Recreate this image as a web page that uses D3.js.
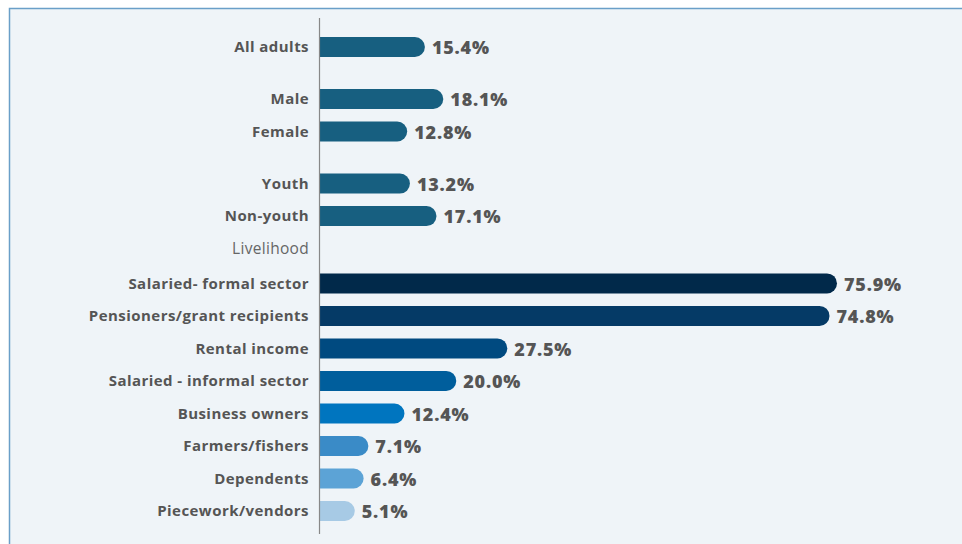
<!DOCTYPE html>
<html>
<head>
<meta charset="utf-8">
<script src="https://cdn.jsdelivr.net/npm/d3@7"></script>
<style>
  html, body { margin: 0; padding: 0; background: #ffffff; }
  svg { display: block; }
</style>
</head>
<body>
<svg id="chart" width="962" height="544"></svg>
<script>
// Share of adults in each group (percent)
const categories = [
  "All adults",
  "Male", "Female",
  "Youth", "Non-youth",
  "Salaried- formal sector", "Pensioners/grant recipients", "Rental income",
  "Salaried - informal sector", "Business owners", "Farmers/fishers",
  "Dependents", "Piecework/vendors"
];
const values = [15.4, 18.1, 12.8, 13.2, 17.1, 75.9, 74.8, 27.5, 20.0, 12.4, 7.1, 6.4, 5.1];
const groups = ["all", "gender", "gender", "age", "age",
  "livelihood", "livelihood", "livelihood", "livelihood", "livelihood",
  "livelihood", "livelihood", "livelihood"];
const groupHeaders = { livelihood: "Livelihood" };
const barColors = [
  "#175f80", "#175f80", "#175f80", "#175f80", "#175f80",
  "#01294a", "#053a66", "#004a80", "#005e9c", "#0075bf",
  "#3a8bc7", "#5ca3d6", "#a7cae5"
];

const svg = d3.select("#chart");
const W = 962, H = 544;
const FONT = "'Open Sans', Lato, sans-serif";

// panel background and border
svg.append("rect").attr("x", 0).attr("y", 0).attr("width", W).attr("height", H).attr("fill", "#ffffff");
svg.append("rect").attr("x", 9.5).attr("y", 8.5).attr("width", W + 20).attr("height", H + 20)
  .attr("fill", "#eff4f8").attr("stroke", "#6a9fc8").attr("stroke-width", 1.5);

// row slots: extra space between groups, one slot for a group header
const slots = [];
let pos = 0, prev = null;
const rows = [];
categories.forEach((c, i) => {
  const g = groups[i];
  if (prev !== null && g !== prev) {
    if (groupHeaders[g]) {
      pos += 1;
      rows.push({ header: groupHeaders[g], slot: pos });
      pos += 1.07;
    } else {
      pos += 1.6;
    }
  } else if (prev !== null) {
    pos += 1;
  }
  slots.push(pos);
  prev = g;
});

const y = d3.scaleLinear().domain([0, slots[slots.length - 1]]).range([47, 511]);
const x = d3.scaleLinear().domain([0, 75.9]).range([320, 837]);
const barH = 20;

const data = categories.map((c, i) => ({ cat: c, v: values[i], color: barColors[i], slot: slots[i] }));

// bars with a rounded right end
svg.append("g").selectAll("path").data(data).join("path")
  .attr("fill", d => d.color)
  .attr("d", d => {
    const x0 = x(0), x1 = x(d.v), yc = y(d.slot), r = barH / 2;
    const t = yc - r, b = yc + r;
    return `M${x0},${t}H${x1 - r}A${r},${r} 0 0 1 ${x1 - r},${b}H${x0}Z`;
  });

// category labels
svg.append("g").selectAll("text").data(data).join("text")
  .attr("x", 309).attr("y", d => y(d.slot))
  .attr("dy", "0.35em").attr("text-anchor", "end")
  .attr("font-family", FONT).attr("font-weight", 700)
  .attr("font-size", 15).attr("letter-spacing", 0.45).attr("fill", "#555555")
  .text(d => d.cat);

// group header labels
svg.append("g").selectAll("text").data(rows).join("text")
  .attr("x", 309).attr("y", d => y(d.slot))
  .attr("dy", "0.35em").attr("text-anchor", "end")
  .attr("font-family", FONT).attr("font-weight", 400)
  .attr("font-size", 15.5).attr("letter-spacing", 0.3).attr("fill", "#666666")
  .text(d => d.header);

// value labels
svg.append("g").selectAll("text").data(data).join("text")
  .attr("x", d => x(d.v) + 7).attr("y", d => y(d.slot) + 1)
  .attr("dy", "0.35em")
  .attr("font-family", FONT).attr("font-weight", 800)
  .attr("font-size", 18).attr("letter-spacing", 0.8).attr("fill", "#555555")
  .text(d => d3.format(".1f")(d.v) + "%");

// vertical axis line
svg.append("line").attr("x1", 319.5).attr("x2", 319.5).attr("y1", 18).attr("y2", 534)
  .attr("stroke", "#888888").attr("stroke-width", 1.2);
</script>
</body>
</html>
